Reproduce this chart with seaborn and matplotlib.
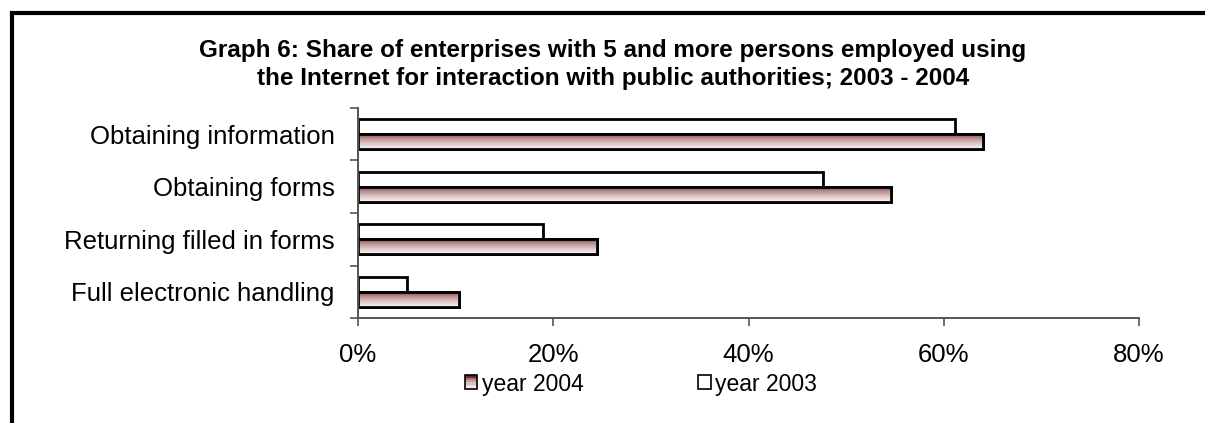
import numpy as np
import pandas as pd
import matplotlib
matplotlib.use("Agg")
import matplotlib.pyplot as plt
import seaborn as sns
from matplotlib.patches import Rectangle
from matplotlib.legend_handler import HandlerBase
from matplotlib.ticker import FixedLocator, PercentFormatter

# Data (percent of enterprises)
activities = ["Obtaining information", "Obtaining forms",
              "Returning filled in forms", "Full electronic handling"]
year_2003 = [61.2, 47.6, 19.0, 5.0]
year_2004 = [64.0, 54.6, 24.5, 10.3]
series_names = ["year 2003", "year 2004"]
x_ticks = [0, 20, 40, 60, 80]

df = pd.DataFrame({
    "activity": activities * 2,
    "share": year_2003 + year_2004,
    "year": [series_names[0]] * 4 + [series_names[1]] * 4,
})

sns.set_theme(style="white")
plt.rcParams["font.family"] = ["Liberation Sans", "DejaVu Sans"]
plt.rcParams["text.color"] = "black"
plt.rcParams["xtick.labelcolor"] = "black"
plt.rcParams["ytick.labelcolor"] = "black"

LABEL_SIZE = 18.5
LEGEND_SIZE = 16.5

W, H = 1205, 423
fig = plt.figure(figsize=(W / 100, H / 100), dpi=100)
ax = fig.add_axes([358 / W, 1 - 318 / H, (1139 - 358) / W, (318 - 108) / H])

sns.barplot(data=df, y="activity", x="share", hue="year", order=activities,
            hue_order=series_names, orient="h", width=0.57, dodge=True,
            palette=["white", "white"], edgecolor="black", linewidth=2.0,
            legend=False, ax=ax)


def gradient_rgb(n=40):
    t = np.linspace(0, 1, n) ** 0.55
    top = np.array([0.45, 0.14, 0.14])
    bottom = np.array([0.98, 0.96, 0.96])
    return (top[None, :] * (1 - t[:, None]) + bottom[None, :] * t[:, None])[:, None, :]


grad = gradient_rgb()
# Shade the 2004 bars with a vertical gradient clipped to each bar
for patch in ax.patches[len(activities):]:
    x0, y0 = patch.get_x(), patch.get_y()
    w, h = patch.get_width(), patch.get_height()
    im = ax.imshow(grad, extent=(x0, x0 + w, y0 + h, y0), origin="upper",
                   aspect="auto", interpolation="nearest", zorder=patch.get_zorder() + 0.1)
    im.set_clip_path(patch)
    edge = Rectangle((x0, y0), w, h, fill=False, edgecolor="black",
                     linewidth=2.0, zorder=patch.get_zorder() + 0.2)
    ax.add_patch(edge)

ax.set_xlim(0, 80)
ax.set_ylim(len(activities) - 0.5, -0.5)
ax.set_xlabel("")
ax.set_ylabel("")

ax.xaxis.set_major_locator(FixedLocator(x_ticks))
ax.xaxis.set_major_formatter(PercentFormatter(decimals=0))
ax.tick_params(axis="x", which="major", direction="out", length=6, width=1.2,
               color="#555555", pad=12, labelsize=LABEL_SIZE, bottom=True)
ax.yaxis.set_minor_locator(FixedLocator(np.arange(-0.5, len(activities), 1.0)))
ax.tick_params(axis="y", which="major", length=0, pad=17, labelsize=LABEL_SIZE, left=True)
ax.tick_params(axis="y", which="minor", direction="out", length=6, width=1.2,
               color="#555555", left=True)

for side in ("top", "right"):
    ax.spines[side].set_visible(False)
for side in ("left", "bottom"):
    ax.spines[side].set_color("#555555")
    ax.spines[side].set_linewidth(1.4)


class GradientHandler(HandlerBase):
    def create_artists(self, legend, orig_handle, xdescent, ydescent, width,
                       height, fontsize, trans):
        artists = []
        n = 6
        cols = gradient_rgb(n)[:, 0, :]
        for i in range(n):
            r = Rectangle((-xdescent, -ydescent + height * (n - 1 - i) / n),
                          width, height / n, facecolor=cols[i], edgecolor="none",
                          transform=trans)
            artists.append(r)
        artists.append(Rectangle((-xdescent, -ydescent), width, height, fill=False,
                                 edgecolor="black", linewidth=1.2, transform=trans))
        return artists


h2004 = Rectangle((0, 0), 1, 1, label="year 2004")
h2003 = Rectangle((0, 0), 1, 1, facecolor="white", edgecolor="black",
                  linewidth=1.2, label="year 2003")
fig.legend(handles=[h2004, h2003], labels=["year 2004", "year 2003"],
           handler_map={h2004: GradientHandler()},
           loc="center left", bbox_to_anchor=(444 / W, 1 - 384 / H), ncol=2,
           frameon=False, fontsize=LEGEND_SIZE, handlelength=0.55, handleheight=0.55,
           handletextpad=0.2, columnspacing=5.0, borderpad=0.4)

fig.suptitle("Graph 6: Share of enterprises with 5 and more persons employed using\n"
             "the Internet for interaction with public authorities; 2003 - 2004",
             x=613 / W, y=1 - 39 / H, va="top", fontsize=17.5, fontweight="bold",
             linespacing=1.3)

# Outer frame of the chart area
fig.add_artist(Rectangle((12 / W, -0.2), 1.2, 1.2 - 13 / H, fill=False,
                         edgecolor="black", linewidth=3, transform=fig.transFigure,
                         clip_on=False))

fig.savefig("out.png", dpi=100, facecolor="white")
